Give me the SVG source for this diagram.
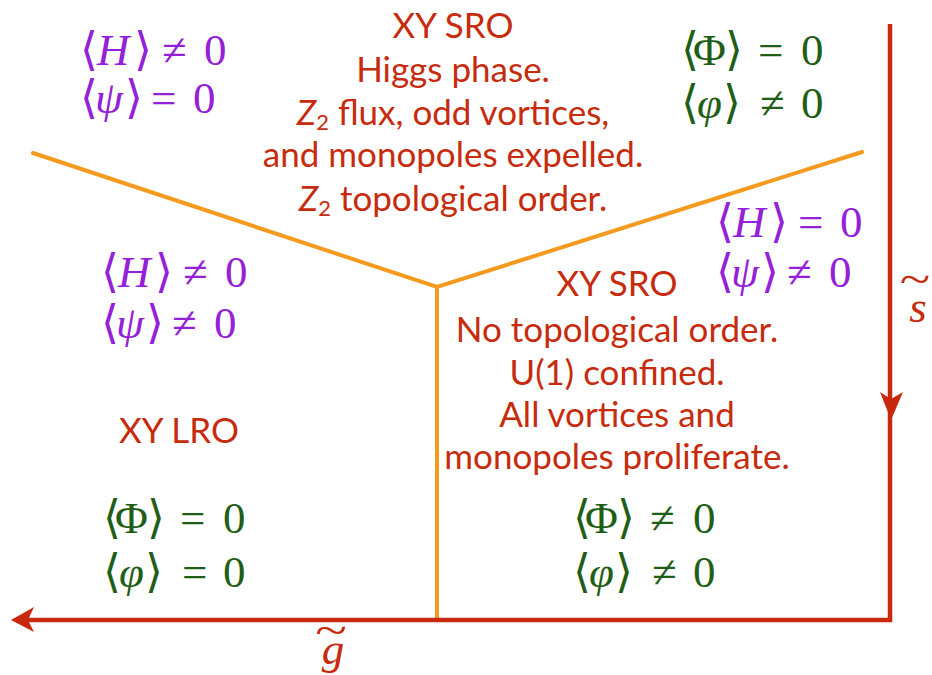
<svg xmlns="http://www.w3.org/2000/svg" width="932" height="675" viewBox="0 0 932 675">
<style>
.t{font-family:"Lato","Open Sans","Liberation Sans",sans-serif;font-size:35px;fill:#C62B0D;text-anchor:middle}
.m{font-family:'Liberation Serif','Times New Roman',serif;font-size:45px}
.br{font-family:'DejaVu Serif',serif;font-size:46px}
.i{font-style:italic}
.p{fill:#9420D8}
.g{fill:#1F5E16}
.or{stroke:#F39A1F;stroke-width:4;fill:none;stroke-linecap:round}
.rd{stroke:#C8290E;stroke-width:4.5;fill:none}
.ah{fill:#C8290E}
.s{font-size:22px}
</style>
<rect width="932" height="675" fill="#fff"/>
<g id="connectors">
<path class="or" d="M33,153 L437,287 L862,152 M437,287 L437,620"/>
<path class="rd" d="M890,24 L890,620 L28,620"/>
<polygon class="ah" points="880,392 891,420 903,392 891,399"/>
<polygon class="ah" points="11,620 34,607 28,620 34,632"/>
</g>
<g id="axis-s">
<text x="918" y="322" class="m i" fill="#C62B0D" text-anchor="middle" font-size="52">s</text>
<text x="915" y="294" class="m" fill="#C62B0D" text-anchor="middle" font-size="40" transform="translate(915,0) scale(1.25,1) translate(-915,0)">~</text>
</g>
<g id="axis-g">
<text x="333" y="664" class="m i" fill="#C62B0D" text-anchor="middle" font-size="54">g</text>
<text x="331" y="645" class="m" fill="#C62B0D" text-anchor="middle" font-size="40" transform="translate(331,0) scale(1.3,1) translate(-331,0)">~</text>
</g>
<g id="region-top">
<text class="t" x="453" y="38">XY SRO</text>
<text class="t" x="453" y="82">Higgs phase.</text>
<text class="t" x="453" y="125"><tspan class="i">Z</tspan><tspan class="s" dy="5">2</tspan><tspan dy="-5"> flux, odd vortices,</tspan></text>
<text class="t" x="453" y="167">and monopoles expelled.</text>
<text class="t" x="453" y="211"><tspan class="i">Z</tspan><tspan class="s" dy="5">2</tspan><tspan dy="-5"> topological order.</tspan></text>
<text class="m p" y="65"><tspan class="br" x="80">⟨</tspan><tspan class="i" x="97">H</tspan><tspan class="br" x="134">⟩</tspan><tspan x="162">≠</tspan><tspan x="204">0</tspan></text>
<text class="m p" y="113"><tspan class="br" x="80">⟨</tspan><tspan class="i" x="95">ψ</tspan><tspan class="br" x="125">⟩</tspan><tspan x="151">=</tspan><tspan x="193">0</tspan></text>
<text class="m g" y="65"><tspan class="br" x="681">⟨</tspan><tspan x="693">Φ</tspan><tspan class="br" x="725">⟩</tspan><tspan x="758">=</tspan><tspan x="801">0</tspan></text>
<text class="m g" y="118"><tspan class="br" x="681">⟨</tspan><tspan class="i" x="697">φ</tspan><tspan class="br" x="723">⟩</tspan><tspan x="760">≠</tspan><tspan x="801">0</tspan></text>
</g>
<g id="region-right">
<text class="m p" y="237"><tspan class="br" x="716">⟨</tspan><tspan class="i" x="733">H</tspan><tspan class="br" x="770">⟩</tspan><tspan x="798">=</tspan><tspan x="840">0</tspan></text>
<text class="m p" y="287"><tspan class="br" x="716">⟨</tspan><tspan class="i" x="731">ψ</tspan><tspan class="br" x="761">⟩</tspan><tspan x="787">≠</tspan><tspan x="829">0</tspan></text>
<text class="t" x="617" y="296">XY SRO</text>
<text class="t" x="617" y="342">No topological order.</text>
<text class="t" x="617" y="385">U(1) confined.</text>
<text class="t" x="617" y="427">All vortices and</text>
<text class="t" x="617" y="469">monopoles proliferate.</text>
<text class="m g" y="533"><tspan class="br" x="573">⟨</tspan><tspan x="585">Φ</tspan><tspan class="br" x="617">⟩</tspan><tspan x="650">≠</tspan><tspan x="693">0</tspan></text>
<text class="m g" y="587"><tspan class="br" x="573">⟨</tspan><tspan class="i" x="589">φ</tspan><tspan class="br" x="615">⟩</tspan><tspan x="652">≠</tspan><tspan x="693">0</tspan></text>
</g>
<g id="region-left">
<text class="m p" y="287"><tspan class="br" x="101">⟨</tspan><tspan class="i" x="118">H</tspan><tspan class="br" x="155">⟩</tspan><tspan x="183">≠</tspan><tspan x="225">0</tspan></text>
<text class="m p" y="338"><tspan class="br" x="101">⟨</tspan><tspan class="i" x="116">ψ</tspan><tspan class="br" x="146">⟩</tspan><tspan x="172">≠</tspan><tspan x="214">0</tspan></text>
<text class="t" x="179" y="443">XY LRO</text>
<text class="m g" y="533"><tspan class="br" x="103">⟨</tspan><tspan x="115">Φ</tspan><tspan class="br" x="147">⟩</tspan><tspan x="180">=</tspan><tspan x="223">0</tspan></text>
<text class="m g" y="587"><tspan class="br" x="103">⟨</tspan><tspan class="i" x="119">φ</tspan><tspan class="br" x="145">⟩</tspan><tspan x="182">=</tspan><tspan x="223">0</tspan></text>
</g>
</svg>
